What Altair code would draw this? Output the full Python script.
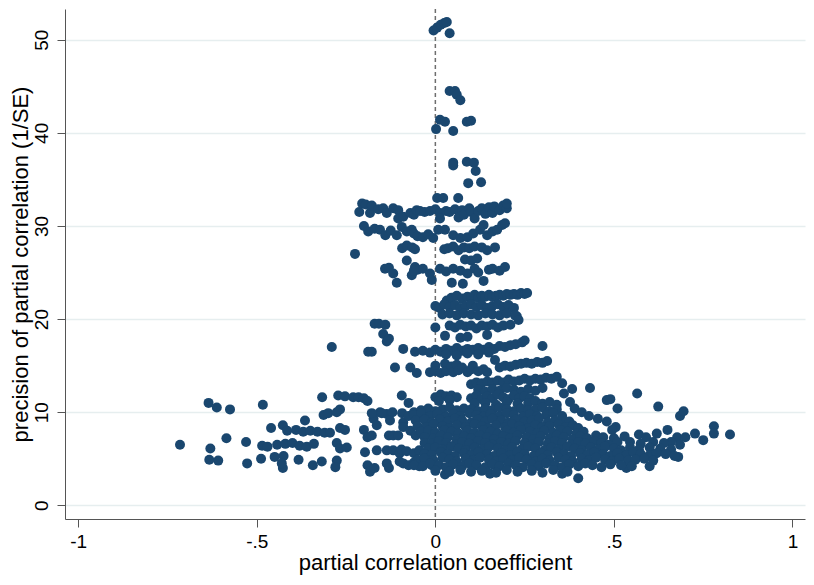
import altair as alt
import pandas as pd

# points, grouped by the visible bands of the funnel
top_x = [-0.005, 0.005, 0.015, 0.025, 0.032, 0.04, 0.04, 0.055, 0.06, 0.07,
         0.013, 0.027, 0.002, 0.05, 0.088, 0.1, 0.05, 0.05, 0.088, 0.108,
         0.113, 0.092, 0.128, 0.005, 0.022, 0.064]
top_y = [51.0, 51.3, 51.6, 51.8, 51.9, 50.7, 44.5, 44.5, 44.1, 43.5,
         41.4, 41.2, 40.4, 40.2, 41.2, 41.3, 36.8, 36.5, 36.9, 36.8,
         35.9, 34.6, 34.7, 33.0, 33.0, 33.0]

band31_x = [-0.213, -0.205, -0.195, -0.183, -0.178, -0.16, -0.146, -0.136, -0.118, -0.104,
            -0.104, -0.09, -0.07, -0.06, -0.052, -0.043, -0.03, -0.015, 0.0, 0.013,
            0.013, 0.03, 0.04, 0.055, 0.065, 0.075, 0.08, 0.095, 0.1, 0.11,
            0.12, 0.13, 0.14, 0.15, 0.16, 0.165, 0.18, 0.19, 0.2, 0.2]
band31_y = [31.5, 32.4, 32.3, 31.4, 32.2, 31.8, 31.9, 31.4, 31.9, 31.7,
            30.8, 31.0, 31.4, 31.2, 31.7, 31.6, 31.5, 31.6, 31.8, 31.4,
            30.8, 31.6, 31.5, 31.8, 30.9, 31.7, 31.2, 31.9, 31.5, 30.8,
            31.6, 31.9, 31.3, 32.0, 31.4, 32.1, 31.7, 32.2, 31.9, 32.4]

band29_x = [-0.2, -0.188, -0.17, -0.155, -0.14, -0.125, -0.108, -0.094, -0.08, -0.066,
            -0.06, -0.05, -0.035, -0.02, -0.006, 0.008, 0.027, 0.05, 0.07, 0.09,
            0.106, 0.125, 0.135, 0.145, 0.16, 0.173, 0.187, 0.195]
band29_y = [30.0, 29.4, 29.7, 29.6, 29.0, 29.5, 29.0, 29.9, 29.4, 29.6,
            29.2, 28.9, 28.8, 29.1, 28.7, 29.6, 29.6, 29.0, 28.7, 28.8,
            29.2, 29.6, 30.1, 29.0, 29.4, 29.6, 30.1, 30.3]

band27_x = [-0.225, -0.093, -0.08, -0.065, -0.057, 0.025, 0.035, 0.05, 0.065, 0.08,
            0.095, 0.11, 0.13, 0.145, 0.167, -0.08, 0.083, 0.1, 0.117]
band27_y = [27.0, 27.6, 27.9, 27.7, 27.5, 27.5, 27.6, 27.8, 27.4, 27.7,
            27.6, 27.8, 27.7, 27.4, 27.7, 26.3, 26.4, 26.3, 26.5]

band25_x = [-0.141, -0.13, -0.118, -0.108, -0.066, -0.057, -0.05, -0.035, -0.015, -0.01,
            0.013, 0.03, 0.046, 0.05, 0.07, 0.09, 0.11, 0.12, 0.135, 0.15,
            0.16, 0.18, 0.195, -0.06]
band25_y = [25.4, 25.5, 24.9, 23.9, 24.7, 25.6, 25.3, 25.4, 24.9, 24.2,
            25.4, 25.1, 23.9, 25.4, 25.2, 24.9, 25.4, 25.0, 24.1, 25.3,
            25.4, 25.2, 25.6, 25.2]

band22_x = [0.032, 0.045, 0.06, 0.075, 0.077, 0.09, 0.1, 0.11, 0.12, 0.13,
            0.14, 0.15, 0.16, 0.17, 0.18, 0.19, 0.2, 0.21, 0.22, 0.23,
            0.24, 0.25, 0.257]
band22_y = [22.0, 22.3, 22.5, 22.2, 23.8, 22.4, 22.3, 22.6, 22.3, 22.5,
            22.4, 22.6, 22.4, 22.5, 22.6, 22.5, 22.7, 22.6, 22.7, 22.6,
            22.8, 22.7, 22.8]

band21_x = [0.0, 0.012, 0.025, 0.04, 0.055, 0.07, 0.085, 0.1, 0.115, 0.13,
            0.145, 0.16, 0.175, 0.19, 0.205, 0.22, 0.228, 0.02, 0.04, 0.06,
            0.08, 0.1, 0.12, 0.14, 0.16, 0.18, 0.2, 0.223, 0.233]
band21_y = [21.4, 21.2, 21.6, 21.3, 21.5, 21.2, 21.4, 21.6, 21.3, 21.5,
            21.2, 21.4, 21.6, 21.3, 21.5, 21.2, 20.3, 20.5, 20.6, 20.4,
            20.6, 20.5, 20.4, 20.6, 20.5, 20.4, 20.6, 20.4, 19.9]

band19_x = [-0.17, -0.158, -0.14, -0.146, -0.13, -0.136, 0.0, 0.04, 0.055, 0.07,
            0.085, 0.1, 0.115, 0.13, 0.145, 0.16, 0.175, 0.19, 0.21, 0.027,
            0.07, 0.09, 0.145]
band19_y = [19.5, 19.5, 19.4, 18.4, 17.9, 17.6, 19.1, 19.3, 19.1, 19.4,
            19.2, 19.3, 19.0, 19.3, 19.2, 19.4, 19.1, 19.3, 19.4, 18.2,
            18.0, 18.1, 18.3]

band17_x = [-0.29, -0.188, -0.178, -0.09, -0.057, -0.035, -0.015, 0.0, 0.015, 0.03,
            0.045, 0.06, 0.075, 0.09, 0.105, 0.12, 0.135, 0.15, 0.165, 0.18,
            0.195, 0.21, 0.225, 0.243, 0.25, 0.3, 0.03, 0.06, 0.09, 0.12,
            0.15]
band17_y = [17.0, 16.5, 16.5, 16.8, 16.5, 16.6, 16.4, 16.7, 16.5, 16.8,
            16.6, 16.9, 16.6, 16.8, 16.7, 16.9, 16.7, 17.0, 16.8, 17.1,
            17.0, 17.2, 17.3, 17.5, 17.7, 17.1, 16.2, 16.1, 16.3, 16.2,
            16.4]

band14_x = [-0.113, -0.07, -0.052, -0.015, 0.0, 0.0, 0.015, 0.027, 0.03, 0.045,
            0.05, 0.06, 0.065, 0.075, 0.09, 0.1, 0.105, 0.12, 0.135, 0.145,
            0.167, 0.18, 0.195, 0.21, 0.225, 0.24, 0.255, 0.27, 0.285, 0.3,
            0.313]
band14_y = [14.8, 14.8, 14.2, 14.3, 15.0, 14.4, 14.2, 15.2, 14.4, 14.9,
            14.3, 15.1, 14.5, 14.8, 14.3, 14.6, 15.0, 14.4, 14.6, 14.3,
            15.6, 14.8, 15.0, 14.9, 15.1, 15.2, 15.3, 15.2, 15.4, 15.3,
            15.5]

band13_x = [0.1, 0.115, 0.13, 0.145, 0.16, 0.175, 0.19, 0.205, 0.22, 0.235,
            0.25, 0.265, 0.28, 0.295, 0.31, 0.325, 0.34, 0.355, 0.12, 0.14,
            0.16, 0.18, 0.2, 0.22, 0.24, 0.26, 0.28, 0.3]
band13_y = [13.0, 13.2, 13.1, 13.3, 13.2, 13.4, 13.2, 13.5, 13.3, 13.4,
            13.6, 13.4, 13.6, 13.5, 13.7, 13.6, 13.8, 13.1, 12.4, 12.2,
            12.5, 12.3, 12.6, 12.4, 12.2, 12.5, 12.3, 12.6]

band11_x = [0.0, 0.015, 0.03, 0.045, 0.06, 0.01, 0.04, 0.1, 0.115, 0.13,
            0.145, 0.16, 0.175, 0.19, 0.205, 0.22, 0.235, 0.25, 0.265, 0.11,
            0.14, 0.17, 0.2, 0.23, 0.26, 0.28, 0.3, 0.32, 0.34, 0.377]
band11_y = [11.6, 11.9, 11.7, 11.8, 11.6, 11.2, 11.3, 11.5, 11.8, 11.4,
            11.7, 11.5, 11.9, 11.6, 11.4, 11.8, 11.5, 11.7, 11.5, 10.9,
            11.0, 10.8, 11.1, 10.9, 11.0, 11.2, 10.9, 11.1, 10.8, 11.1]

right_x = [0.383, 0.433, 0.565, 0.48, 0.49, 0.51, 0.624, 0.685, 0.695, 0.39,
           0.41, 0.43, 0.455, 0.48, 0.505, 0.495, 0.36]
right_y = [12.5, 12.6, 12.0, 11.3, 11.4, 10.4, 10.6, 9.6, 10.1, 10.4,
           10.0, 9.6, 9.3, 9.0, 8.4, 8.1, 12.0]

tail_x = [0.57, 0.59, 0.62, 0.65, 0.677, 0.7, 0.727, 0.75, 0.78, 0.78,
          0.825, 0.685, 0.66, 0.545, 0.575, 0.61, 0.64]
tail_y = [7.6, 7.3, 7.7, 8.1, 7.3, 7.3, 7.7, 7.0, 8.5, 7.7,
          7.6, 6.5, 6.8, 6.8, 6.6, 6.8, 6.7]

low_x = [0.4, 0.355, 0.153, 0.535, 0.6, 0.68, 0.027]
low_y = [2.9, 3.4, 3.4, 4.0, 4.2, 5.2, 3.3]

left_x = [-0.715, -0.635, -0.612, -0.575, -0.63, -0.633, -0.608, -0.585, -0.53, -0.527,
          -0.483, -0.488, -0.485, -0.47, -0.443, -0.42, -0.4, -0.38, -0.36, -0.34,
          -0.46, -0.427, -0.415, -0.39, -0.37, -0.35, -0.33, -0.31, -0.295, -0.365,
          -0.45, -0.425, -0.427, -0.43, -0.383, -0.343, -0.318, -0.317, -0.313, -0.3,
          -0.267, -0.276, -0.272, -0.253, -0.23, -0.215, -0.2, -0.19, -0.267, -0.253,
          -0.276, -0.267, -0.248, -0.276, -0.28, -0.2, -0.19, -0.178, -0.173, -0.164,
          -0.197, -0.19, -0.183, -0.17, -0.155, -0.136, -0.12, -0.13, -0.118, -0.104,
          -0.164, -0.136, -0.118, -0.1, -0.136, -0.13, -0.1, -0.09, -0.094, -0.15,
          -0.127, -0.178]
left_y = [6.5, 11.0, 10.5, 10.3, 6.1, 4.9, 4.8, 7.2, 6.8, 4.5,
          10.8, 5.0, 6.4, 6.3, 6.5, 6.6, 6.7, 6.4, 6.3, 6.6,
          8.3, 8.6, 8.0, 8.1, 7.9, 8.0, 7.9, 7.8, 7.8, 9.1,
          5.2, 5.3, 4.0, 4.5, 4.9, 4.3, 4.7, 11.6, 9.7, 9.9,
          10.3, 10.0, 11.8, 11.7, 11.6, 11.6, 11.5, 11.2, 8.3, 8.1,
          6.7, 6.1, 6.2, 4.8, 4.1, 8.1, 7.3, 7.5, 9.3, 8.6,
          5.7, 4.3, 3.6, 4.0, 10.0, 9.8, 10.0, 7.5, 7.5, 7.5,
          5.9, 5.9, 5.9, 5.6, 4.5, 4.0, 4.7, 8.9, 11.8, 9.9,
          9.1, 9.9]

midleft_x = [-0.093, -0.075, -0.06, -0.045, -0.03, -0.09, -0.07, -0.055, -0.04, -0.025,
             -0.095, -0.08, -0.06, -0.045, -0.015, -0.09, -0.075, -0.06, -0.045, -0.03,
             -0.01, -0.075]
midleft_y = [9.9, 9.6, 10.0, 9.4, 9.8, 8.4, 8.0, 7.5, 8.2, 7.7,
             6.0, 5.8, 5.6, 5.9, 5.9, 4.5, 4.3, 4.6, 4.2, 4.5,
             4.3, 11.0]

# the dense body of the funnel, row by row
r103_x = [-0.04, -0.02, 0.0, 0.02, 0.04, 0.06, 0.08, 0.1, 0.12, 0.14,
          0.16, 0.18, 0.2, 0.22, 0.24, 0.26, 0.28, 0.3, 0.32, 0.34]
r103_y = [10.2, 10.4, 10.1, 10.3, 10.5, 10.2, 10.4, 10.3, 10.1, 10.4,
          10.2, 10.5, 10.3, 10.1, 10.4, 10.2, 10.3, 10.5, 10.1, 10.3]
r97_x = [-0.06, -0.04, -0.015, 0.005, 0.03, 0.05, 0.07, 0.095, 0.115, 0.135,
         0.155, 0.18, 0.2, 0.22, 0.245, 0.265, 0.285, 0.31, 0.33, 0.355]
r97_y = [9.7, 9.9, 9.6, 9.8, 9.5, 9.8, 9.6, 9.9, 9.7, 9.5,
         9.8, 9.6, 9.9, 9.7, 9.5, 9.8, 9.6, 9.7, 9.9, 9.6]
r91_x = [-0.055, -0.03, -0.01, 0.012, 0.035, 0.055, 0.075, 0.1, 0.12, 0.14,
         0.16, 0.185, 0.205, 0.225, 0.25, 0.27, 0.29, 0.315, 0.335, 0.355,
         0.375]
r91_y = [9.1, 9.2, 8.9, 9.2, 9.0, 9.3, 9.1, 8.9, 9.2, 9.0,
         9.3, 9.1, 8.9, 9.2, 9.0, 9.1, 9.3, 8.9, 9.1, 9.2,
         9.0]
r85_x = [-0.05, -0.025, -0.005, 0.02, 0.04, 0.06, 0.085, 0.11, 0.13, 0.15,
         0.17, 0.195, 0.215, 0.235, 0.26, 0.28, 0.3, 0.32, 0.345, 0.365,
         0.385, 0.4]
r85_y = [8.5, 8.4, 8.7, 8.5, 8.3, 8.6, 8.4, 8.7, 8.5, 8.3,
         8.6, 8.4, 8.7, 8.5, 8.3, 8.6, 8.4, 8.5, 8.7, 8.4,
         8.6, 8.3]
r79_x = [-0.04, -0.02, 0.0, 0.025, 0.045, 0.065, 0.09, 0.11, 0.135, 0.155,
         0.175, 0.2, 0.22, 0.24, 0.265, 0.285, 0.305, 0.33, 0.35, 0.37,
         0.395, 0.415]
r79_y = [7.9, 8.0, 7.8, 8.1, 7.9, 7.7, 8.0, 7.8, 8.1, 7.9,
         7.7, 8.0, 7.8, 8.1, 7.9, 7.7, 8.0, 7.8, 8.1, 7.9,
         7.7, 7.9]
r73_x = [-0.03, -0.005, 0.015, 0.035, 0.06, 0.08, 0.1, 0.125, 0.145, 0.165,
         0.19, 0.21, 0.23, 0.255, 0.275, 0.295, 0.32, 0.34, 0.36, 0.385,
         0.405, 0.425, 0.45, 0.47, 0.5, 0.53]
r73_y = [7.3, 7.2, 7.5, 7.3, 7.1, 7.4, 7.2, 7.5, 7.3, 7.1,
         7.4, 7.2, 7.5, 7.3, 7.1, 7.4, 7.2, 7.5, 7.3, 7.1,
         7.4, 7.2, 7.5, 7.3, 7.2, 7.4]
r67_x = [-0.03, -0.01, 0.01, 0.03, 0.055, 0.075, 0.095, 0.12, 0.14, 0.16,
         0.185, 0.205, 0.225, 0.25, 0.27, 0.29, 0.315, 0.335, 0.355, 0.38,
         0.4, 0.42, 0.445, 0.465, 0.485, 0.51]
r67_y = [6.7, 6.6, 6.9, 6.7, 6.5, 6.8, 6.6, 6.9, 6.7, 6.5,
         6.8, 6.6, 6.9, 6.7, 6.5, 6.8, 6.6, 6.9, 6.7, 6.5,
         6.8, 6.6, 6.9, 6.7, 6.5, 6.8]
r61_x = [-0.02, 0.0, 0.02, 0.045, 0.065, 0.085, 0.11, 0.13, 0.15, 0.175,
         0.195, 0.215, 0.24, 0.26, 0.28, 0.305, 0.325, 0.345, 0.37, 0.39,
         0.41, 0.435, 0.455, 0.475, 0.5, 0.52, 0.545, 0.57, 0.6, 0.63,
         0.66]
r61_y = [6.1, 6.2, 6.0, 6.3, 6.1, 5.9, 6.2, 6.0, 6.3, 6.1,
         5.9, 6.2, 6.0, 6.3, 6.1, 5.9, 6.2, 6.0, 6.3, 6.1,
         5.9, 6.2, 6.0, 6.3, 6.1, 5.9, 6.2, 6.0, 6.2, 6.1,
         6.0]
r55_x = [-0.03, -0.01, 0.015, 0.035, 0.055, 0.08, 0.1, 0.12, 0.145, 0.165,
         0.185, 0.21, 0.23, 0.25, 0.275, 0.295, 0.315, 0.34, 0.36, 0.38,
         0.405, 0.425, 0.445, 0.47, 0.49, 0.51, 0.535, 0.555, 0.575, 0.6,
         0.62, 0.645, 0.67]
r55_y = [5.5, 5.4, 5.7, 5.5, 5.3, 5.6, 5.4, 5.7, 5.5, 5.3,
         5.6, 5.4, 5.7, 5.5, 5.3, 5.6, 5.4, 5.7, 5.5, 5.3,
         5.6, 5.4, 5.7, 5.5, 5.3, 5.6, 5.4, 5.7, 5.5, 5.4,
         5.6, 5.5, 5.3]
r49_x = [-0.05, -0.03, -0.005, 0.02, 0.04, 0.06, 0.085, 0.105, 0.125, 0.15,
         0.17, 0.19, 0.215, 0.235, 0.255, 0.28, 0.3, 0.32, 0.345, 0.365,
         0.385, 0.41, 0.43, 0.45, 0.475, 0.495, 0.515, 0.54, 0.56, 0.585,
         0.61]
r49_y = [4.9, 5.0, 4.8, 5.1, 4.9, 4.7, 5.0, 4.8, 5.1, 4.9,
         4.7, 5.0, 4.8, 5.1, 4.9, 4.7, 5.0, 4.8, 5.1, 4.9,
         4.7, 5.0, 4.8, 5.1, 4.9, 4.7, 5.0, 4.8, 4.9, 5.0,
         4.8]
r43_x = [-0.06, -0.035, -0.015, 0.01, 0.03, 0.05, 0.075, 0.095, 0.115, 0.14,
         0.16, 0.18, 0.205, 0.225, 0.245, 0.27, 0.29, 0.31, 0.335, 0.355,
         0.375, 0.4, 0.42, 0.44, 0.465, 0.49, 0.52, 0.55]
r43_y = [4.3, 4.2, 4.5, 4.3, 4.1, 4.4, 4.2, 4.5, 4.3, 4.1,
         4.4, 4.2, 4.5, 4.3, 4.1, 4.4, 4.2, 4.5, 4.3, 4.1,
         4.4, 4.2, 4.5, 4.3, 4.1, 4.4, 4.3, 4.2]
r37_x = [0.0, 0.04, 0.07, 0.1, 0.13, 0.17, 0.2, 0.23, 0.27, 0.3,
         0.33, 0.37]
r37_y = [3.7, 3.6, 3.8, 3.6, 3.7, 3.5, 3.8, 3.6, 3.7, 3.5,
         3.8, 3.6]

x_ticks = [-1, -0.5, 0, 0.5, 1]
y_ticks = [0, 10, 20, 30, 40, 50]

groups = [
    (top_x, top_y), (band31_x, band31_y), (band29_x, band29_y),
    (band27_x, band27_y), (band25_x, band25_y), (band22_x, band22_y),
    (band21_x, band21_y), (band19_x, band19_y), (band17_x, band17_y),
    (band14_x, band14_y), (band13_x, band13_y), (band11_x, band11_y),
    (right_x, right_y), (tail_x, tail_y), (low_x, low_y),
    (left_x, left_y), (midleft_x, midleft_y),
    (r103_x, r103_y), (r97_x, r97_y), (r91_x, r91_y), (r85_x, r85_y),
    (r79_x, r79_y), (r73_x, r73_y), (r67_x, r67_y), (r61_x, r61_y),
    (r55_x, r55_y), (r49_x, r49_y), (r43_x, r43_y), (r37_x, r37_y),
]
rows = []
for gx, gy in groups:
    for a, b in zip(gx, gy):
        rows.append({"pcc": a, "prec": b})
df = pd.DataFrame(rows)

FONT = "Liberation Sans"

x_scale = alt.Scale(domain=[-1.037, 1.035], nice=False, zero=False)
y_scale = alt.Scale(domain=[-1.47, 53.3], nice=False, zero=False)

# stata style labels: plain hyphen and no leading zero
x_label = (
    "datum.value == -1 ? '-1' : datum.value == -0.5 ? '-.5' : "
    "datum.value == 0 ? '0' : datum.value == 0.5 ? '.5' : '1'"
)

points = (
    alt.Chart(df)
    .mark_circle(size=100, color="#1a476f", opacity=1)
    .encode(
        alt.X(
            "pcc:Q",
            scale=x_scale,
            axis=alt.Axis(
                title="partial correlation coefficient",
                values=x_ticks,
                labelExpr=x_label,
                grid=False,
                labelPadding=5,
                titlePadding=1,
            ),
        ),
        alt.Y(
            "prec:Q",
            scale=y_scale,
            axis=alt.Axis(
                title="precision of partial correlation (1/SE)",
                values=y_ticks,
                grid=True,
                labelAngle=270,
                labelAlign="center",
                labelBaseline="bottom",
                labelPadding=6,
                titleX=-45,
                titleBaseline="middle",
            ),
        ),
    )
)

zero_line = (
    alt.Chart(pd.DataFrame({"pcc": [0]}))
    .mark_rule(color="#6e6e6e", strokeDash=[4, 3], strokeWidth=1.5)
    .encode(x=alt.X("pcc:Q", scale=x_scale))
)

chart = (
    alt.layer(zero_line, points)
    .properties(
        width=740,
        height=510,
        autosize=alt.AutoSizeParams(type="none"),
        padding={"left": 57, "top": 1, "right": 1, "bottom": 60},
    )
    .configure_view(stroke=None)
    .configure_axis(
        labelFont=FONT,
        titleFont=FONT,
        labelFontSize=19,
        titleFontSize=22,
        titleFontWeight="normal",
        labelColor="#000000",
        titleColor="#000000",
        domainColor="#555555",
        tickColor="#555555",
        tickSize=8,
        gridColor="#e6eeef",
        gridWidth=1.6,
    )
)

chart.save("out.html", embed_options={"renderer": "svg", "actions": False})
